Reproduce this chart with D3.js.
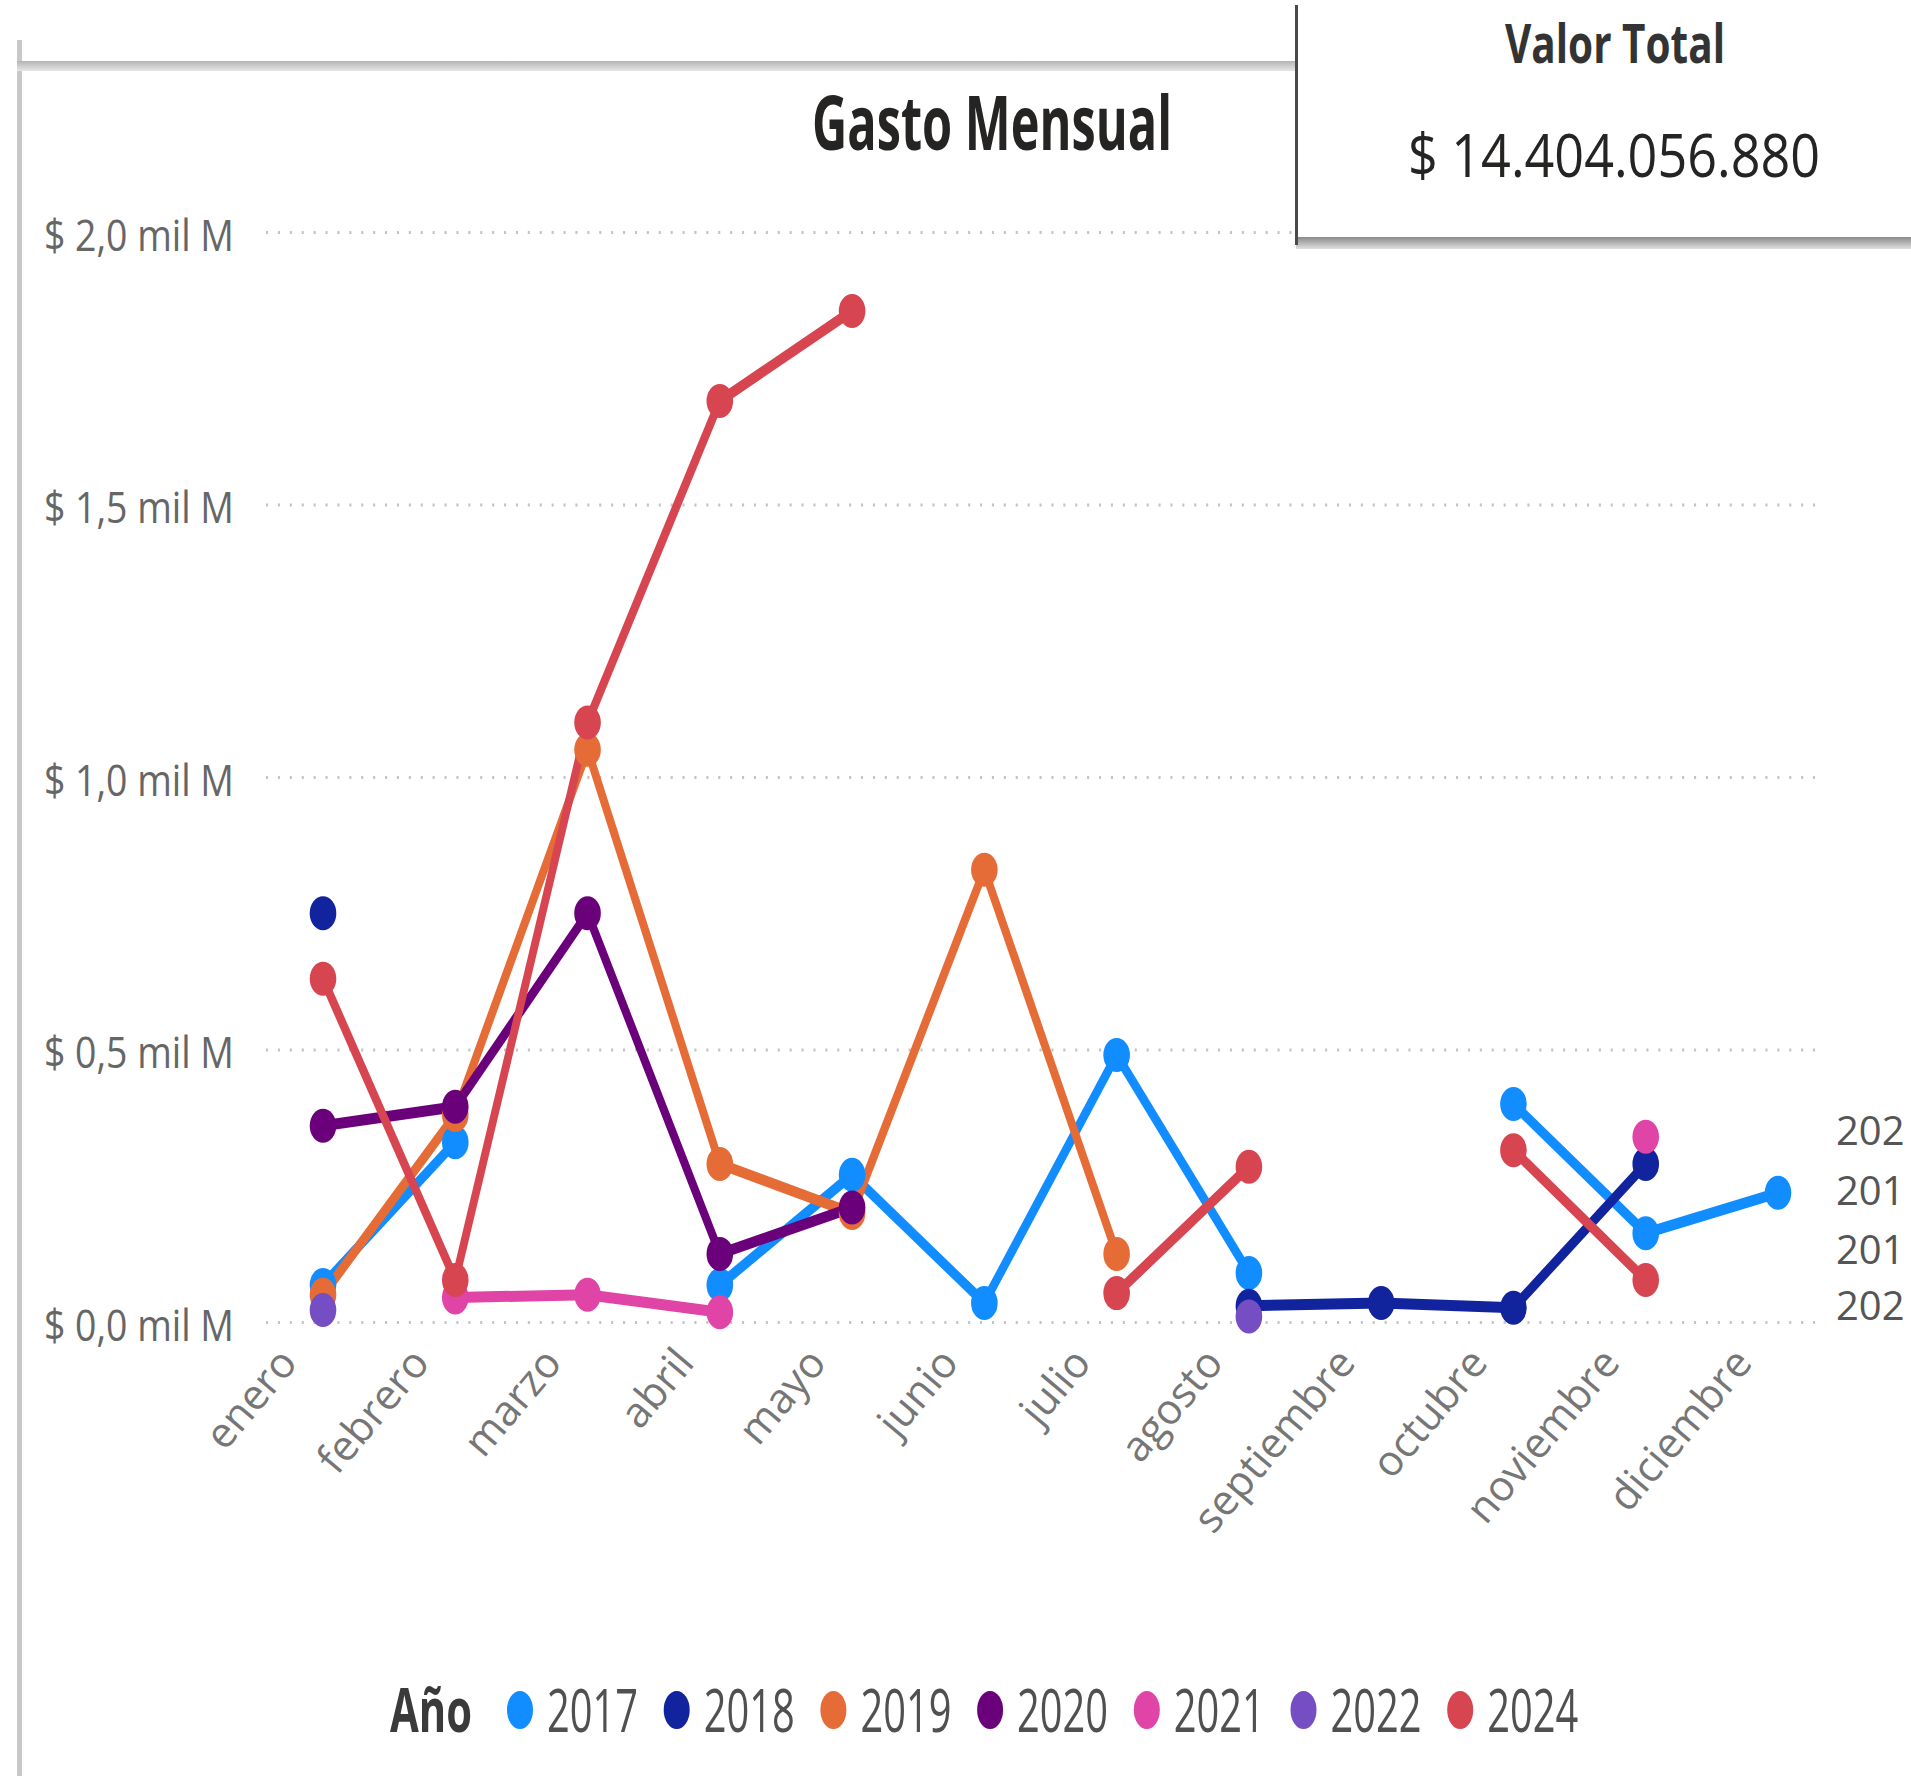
<!DOCTYPE html>
<html lang="es">
<head>
<meta charset="UTF-8">
<title>Gasto Mensual</title>
<style>
  body { margin: 0; background: #fff; }
  svg { display: block; }
</style>
</head>
<body>
<script src="https://d3js.org/d3.v7.min.js"></script>
<script>
var width = 1911;
var height = 1776;
// the source picture is squeezed sideways, so the plot is drawn wider and scaled back
var K = 0.7;
var font = "'Open Sans', 'Noto Sans', sans-serif";

var months = ["enero", "febrero", "marzo", "abril", "mayo", "junio", "julio",
              "agosto", "septiembre", "octubre", "noviembre", "diciembre"];
var years = ["2017", "2018", "2019", "2020", "2021", "2022", "2024"];
var yearColors = ["#118DFF", "#12239E", "#E66C37", "#6B007B", "#E044A7", "#744EC2", "#D64550"];

// miles de millones, null = sin dato
var gasto2017 = [0.068, 0.33, null, 0.068, 0.27, 0.035, 0.49, 0.09, null, 0.40, 0.163, 0.237];
var gasto2018 = [0.75, null, null, null, null, null, null, 0.03, 0.035, 0.026, 0.29, null];
var gasto2019 = [0.05, 0.38, 1.05, 0.29, 0.20, 0.83, 0.125, null, null, null, null, null];
var gasto2020 = [0.36, 0.395, 0.75, 0.125, 0.21, null, null, null, null, null, null, null];
var gasto2021 = [null, 0.045, 0.05, 0.018, null, null, null, null, null, null, 0.34, null];
var gasto2022 = [0.022, null, null, null, null, null, null, 0.01, null, null, null, null];
var gasto2024 = [0.63, 0.077, 1.10, 1.69, 1.855, null, 0.053, 0.285, null, 0.315, 0.077, null];
var seriesValues = [gasto2017, gasto2018, gasto2019, gasto2020, gasto2021, gasto2022, gasto2024];

var yTicks = [0, 0.5, 1, 1.5, 2];
var yTickLabels = ["$ 0,0 mil M", "$ 0,5 mil M", "$ 1,0 mil M", "$ 1,5 mil M", "$ 2,0 mil M"];
var sideLabels = ["202", "201", "201", "202"];

var series = years.map(function(yr, i) {
  return {
    year: yr,
    color: yearColors[i],
    points: months.map(function(m, j) { return {m: m, v: seriesValues[i][j]}; })
  };
});

var svg = d3.select("body").append("svg").attr("width", width).attr("height", height);
var defs = svg.append("defs");

var x = d3.scalePoint().domain(months).range([323, 1778]);
var xs = x.copy().range([323 / K, 1778 / K]);
var y = d3.scaleLinear().domain([0, 2]).range([1322, 232]);

// marco de la tarjeta
var band = defs.append("linearGradient")
  .attr("id", "band").attr("x1", 0).attr("y1", 0).attr("x2", 0).attr("y2", 1);
band.append("stop").attr("offset", "0%").attr("stop-color", "#b5b5b5");
band.append("stop").attr("offset", "100%").attr("stop-color", "#e6e6e6");
svg.append("rect").attr("x", 17).attr("y", 40).attr("width", 5).attr("height", height - 40).attr("fill", "#c9c9c9");
svg.append("rect").attr("x", 17).attr("y", 61).attr("width", 1300).attr("height", 10).attr("fill", "url(#band)");

// titulo
svg.append("text")
  .attr("x", 812).attr("y", 150)
  .attr("font-family", font).attr("font-weight", 700).attr("font-size", 76)
  .attr("fill", "#252423")
  .attr("textLength", 360).attr("lengthAdjust", "spacingAndGlyphs")
  .text("Gasto Mensual");

var plot = svg.append("g").attr("transform", "scale(" + K + ",1)");

// lineas de cuadricula
plot.append("g")
  .attr("transform", "translate(" + (266 / K) + ",0)")
  .call(d3.axisRight(y).tickValues(yTicks).tickSize((1822 - 266) / K).tickFormat(""))
  .call(function(g) { g.select(".domain").remove(); })
  .selectAll("line")
  .attr("stroke", "#c4c4c4")
  .attr("stroke-width", 3)
  .attr("stroke-dasharray", "3,14");

var line = d3.line()
  .defined(function(d) { return d.v != null; })
  .x(function(d) { return xs(d.m); })
  .y(function(d) { return y(d.v); });

plot.selectAll(".serie")
  .data(series)
  .enter()
  .append("path")
  .attr("class", "serie")
  .attr("d", function(d) { return line(d.points); })
  .attr("fill", "none")
  .attr("stroke", function(d) { return d.color; })
  .attr("stroke-width", 11)
  .attr("stroke-linejoin", "round")
  .attr("stroke-linecap", "round");

plot.selectAll(".marcas")
  .data(series)
  .enter()
  .append("g")
  .attr("class", "marcas")
  .attr("fill", function(d) { return d.color; })
  .selectAll("ellipse")
  .data(function(d) { return d.points.filter(function(p) { return p.v != null; }); })
  .enter()
  .append("ellipse")
  .attr("cx", function(d) { return xs(d.m); })
  .attr("cy", function(d) { return y(d.v); })
  .attr("rx", 19)
  .attr("ry", 17);

// eje y
svg.append("g")
  .attr("transform", "translate(234,0)")
  .attr("font-family", font).attr("font-size", 44).attr("color", "#666")
  .call(d3.axisLeft(y).tickValues(yTicks).tickSize(0).tickPadding(0)
    .tickFormat(function(d, i) { return yTickLabels[i]; }))
  .call(function(g) { g.select(".domain").remove(); })
  .selectAll("text")
  .attr("font-family", font).attr("font-size", 44)
  .attr("dy", "0.42em")
  .attr("textLength", 190).attr("lengthAdjust", "spacingAndGlyphs");

// eje x
svg.append("g")
  .selectAll("text")
  .data(months)
  .enter()
  .append("text")
  .attr("transform", function(d) { return "translate(" + (x(d) - 24) + ",1364) rotate(-50)"; })
  .attr("text-anchor", "end")
  .attr("font-family", font).attr("font-size", 42)
  .attr("fill", "#767676")
  .text(function(d) { return d; });

// etiquetas cortadas a la derecha
svg.append("g")
  .selectAll("text")
  .data(sideLabels)
  .enter()
  .append("text")
  .attr("x", 1836)
  .attr("y", function(d, i) { return [1145, 1205, 1264, 1320][i]; })
  .attr("font-family", font).attr("font-size", 40)
  .attr("fill", "#555")
  .text(function(d) { return d; });

// leyenda
var legend = svg.append("g");
legend.append("text")
  .attr("x", 390).attr("y", 1732)
  .attr("font-family", font).attr("font-weight", 700).attr("font-size", 60)
  .attr("fill", "#3a3a3a")
  .attr("textLength", 82).attr("lengthAdjust", "spacingAndGlyphs")
  .text("Año");
var item = legend.selectAll(".item")
  .data(series)
  .enter()
  .append("g")
  .attr("class", "item")
  .attr("transform", function(d, i) { return "translate(" + (520 + i * 156.7) + ",0)"; });
item.append("ellipse")
  .attr("cx", 0).attr("cy", 1710).attr("rx", 13).attr("ry", 19)
  .attr("fill", function(d) { return d.color; });
item.append("text")
  .attr("x", 27).attr("y", 1732)
  .attr("font-family", font).attr("font-size", 60)
  .attr("fill", "#505050")
  .attr("textLength", 91).attr("lengthAdjust", "spacingAndGlyphs")
  .text(function(d) { return d.year; });

// tarjeta Valor Total
var shadow = defs.append("linearGradient")
  .attr("id", "shadow").attr("x1", 0).attr("y1", 0).attr("x2", 0).attr("y2", 1);
shadow.append("stop").attr("offset", "0%").attr("stop-color", "#8a8a8a");
shadow.append("stop").attr("offset", "100%").attr("stop-color", "#e0e0e0");
svg.append("rect").attr("x", 1296).attr("y", 0).attr("width", width - 1296).attr("height", 238).attr("fill", "#fff");
svg.append("rect").attr("x", 1296).attr("y", 237).attr("width", width - 1296).attr("height", 12).attr("fill", "url(#shadow)");
svg.append("rect").attr("x", 1295).attr("y", 5).attr("width", 3).attr("height", 240).attr("fill", "#4a4a4a");
svg.append("text")
  .attr("x", 1615).attr("y", 63)
  .attr("text-anchor", "middle")
  .attr("font-family", font).attr("font-weight", 700).attr("font-size", 53)
  .attr("fill", "#333")
  .attr("textLength", 220).attr("lengthAdjust", "spacingAndGlyphs")
  .text("Valor Total");
svg.append("text")
  .attr("x", 1408).attr("y", 177)
  .attr("font-family", font).attr("font-size", 60)
  .attr("fill", "#252423")
  .attr("textLength", 412).attr("lengthAdjust", "spacingAndGlyphs")
  .text("$ 14.404.056.880");
</script>
</body>
</html>
